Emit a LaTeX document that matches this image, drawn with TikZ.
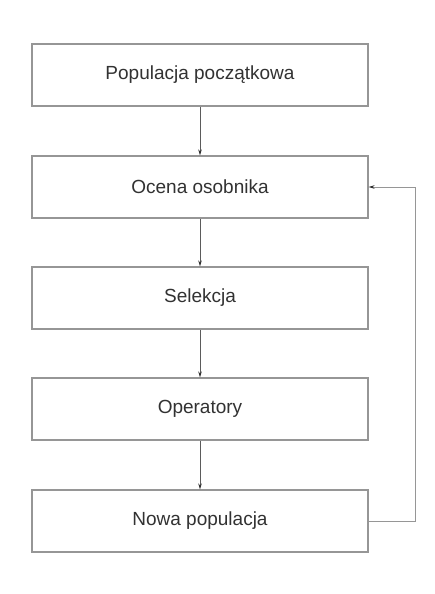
\documentclass[tikz,border=0pt]{standalone}
\usepackage{fontspec}
\setmainfont{Liberation Sans}
\usetikzlibrary{arrows.meta}
\definecolor{linegray}{RGB}{150,150,150}
\definecolor{textgray}{RGB}{50,50,50}
\begin{document}
\begin{tikzpicture}[x=1pt,y=-1pt,
  stepbox/.style={draw=linegray,line width=1.2pt,minimum width=336pt,minimum height=62pt,inner sep=0pt,text=textgray,font=\fontsize{19}{22}\selectfont},
  conn/.style={draw=textgray!80,line width=0.7pt,-{Stealth[length=6pt,width=3.5pt,color=textgray]}}]
\useasboundingbox[fill=white] (0,0) rectangle (434,594);
\node[stepbox] (b1) at (200,75) {Populacja początkowa};
\node[stepbox] (b2) at (200,187) {Ocena osobnika};
\node[stepbox] (b3) at (200,298) {Selekcja};
\node[stepbox] (b4) at (200,409) {Operatory};
\node[stepbox] (b5) at (200,521) {Nowa populacja};
\coordinate (c1) at (415,521);
\coordinate (c2) at (415,187);
\draw[conn] (b1) -- (b2);
\draw[conn] (b2) -- (b3);
\draw[conn] (b3) -- (b4);
\draw[conn] (b4) -- (b5);
\draw[conn,draw=linegray] (b5.east) -- (c1) -- (c2) -- (b2.east);
\end{tikzpicture}
\end{document}
